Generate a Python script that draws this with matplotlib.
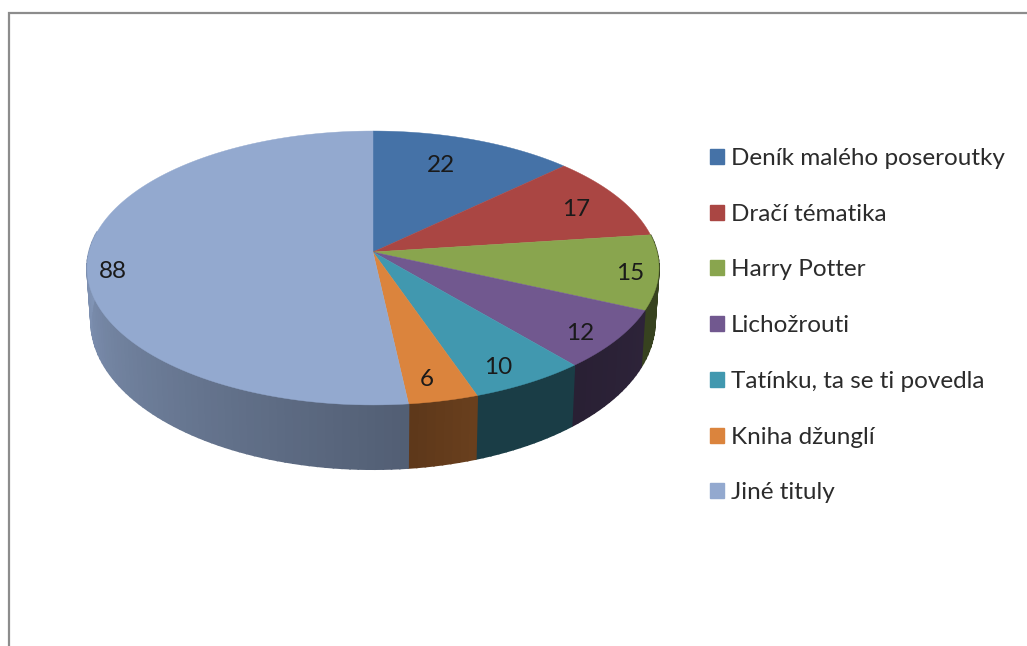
import numpy as np
import matplotlib
matplotlib.use('Agg')
import matplotlib.pyplot as plt
from matplotlib.patches import Rectangle

titles = ['Deník malého poseroutky', 'Dračí tématika', 'Harry Potter', 'Lichožrouti',
          'Tatínku, ta se ti povedla', 'Kniha džunglí', 'Jiné tituly']
counts = [22, 17, 15, 12, 10, 6, 88]

colors = ['#4572A7', '#AA4643', '#89A54E', '#71588F', '#4198AF', '#DB843D', '#93A9CF']
# how dark the side wall gets at the start / end of each slice
wall_shade = [(0.4, 0.4), (0.4, 0.4), (0.4, 0.4), (0.4, 0.36), (0.4, 0.4), (0.48, 0.42), (0.56, 0.88)]
label_pos = [(441, 165), (576, 209), (630, 274), (580, 333), (498, 367), (427, 380), (113, 272)]

plt.rcParams['font.family'] = ['Lato', 'DejaVu Sans']

# pie geometry in pixels, tilted circle with a bit of perspective
cx, cy = 373, 252
sx, sy, k = 284, 135.1, 0.1167


def rim(deg):
    a = np.radians(deg)
    X, Y = np.sin(a), np.cos(a)
    w = 1 + k * Y
    return cx + sx * X / w, cy - sy * Y / w


def rim_bottom(deg):
    x, y = rim(deg)
    return cx + 0.986 * (x - cx), cy + 52 + 1.08 * (y - cy)


fig = plt.figure(figsize=(10.27, 6.46), dpi=100)
ax = fig.add_axes([0, 0, 1, 1])
ax.set_xlim(0, 1027)
ax.set_ylim(646, 0)
ax.axis('off')

# frame, only top and left show up
ax.plot([8.5, 8.5, 1027], [646, 13, 13], color='#8c8c8c', lw=1.6, solid_joinstyle='miter')

edges = np.concatenate([[0], np.cumsum(counts)]) / sum(counts) * 360

# side walls first
for i, col in enumerate(colors):
    n = max(int((edges[i + 1] - edges[i]) / 1.5), 2)
    angs = np.linspace(edges[i], edges[i + 1], n + 1)
    base = np.array(matplotlib.colors.to_rgb(col))
    # gradient only runs over the part of the wall that is visible
    shades = np.interp(angs[:-1], [edges[i], min(edges[i + 1], 272)], wall_shade[i])
    for j in range(n):
        # back of the pie is hidden, and its stroke would peek out behind the top
        if np.cos(np.radians(angs[j])) > 0.15:
            continue
        x0, y0 = rim(angs[j])
        x1, y1 = rim(angs[j + 1])
        x2, y2 = rim_bottom(angs[j + 1])
        x3, y3 = rim_bottom(angs[j])
        c = base * shades[j]
        ax.fill([x0, x1, x2, x3], [y0, y1, y2, y3], color=c, lw=1.2, zorder=2)

# top face
for i, col in enumerate(colors):
    angs = np.linspace(edges[i], edges[i + 1], 120)
    xs, ys = rim(angs)
    ax.fill(np.r_[cx, xs], np.r_[cy, ys], color=col, lw=0.3, zorder=3)

for v, (lx, ly) in zip(counts, label_pos):
    ax.text(lx, ly, str(v), fontsize=17.5, color='#1a1a1a', ha='center', va='center', zorder=4)

handles = [Rectangle((0, 0), 1, 1, color=c) for c in colors]
ax.legend(handles, titles, loc='upper left', bbox_to_anchor=(0.6913, 0.771), frameon=False,
          fontsize=17.5, handlelength=0.58, handleheight=0.58, handletextpad=0.28,
          labelspacing=1.43, labelcolor='#2b2b2b', borderpad=0, borderaxespad=0)

plt.savefig('out.png', dpi=100)
